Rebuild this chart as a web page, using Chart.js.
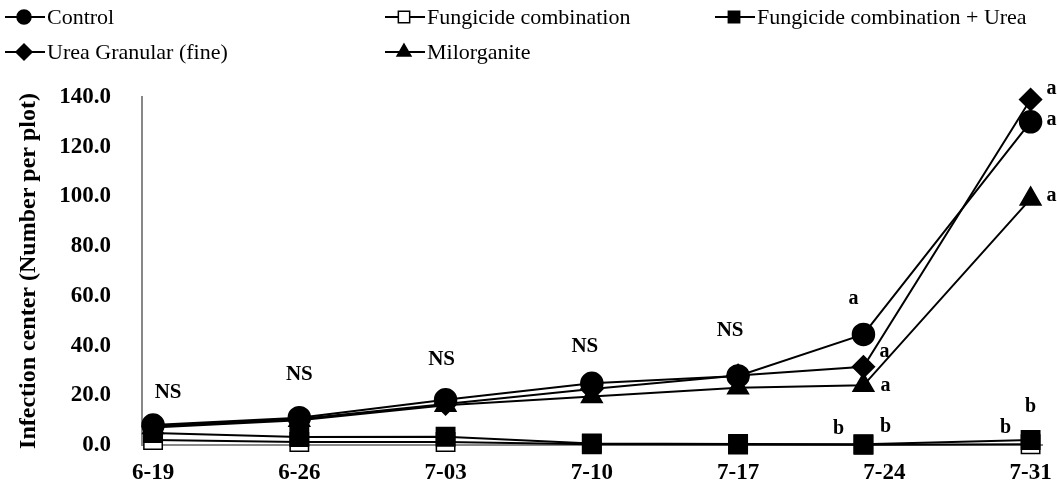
<!DOCTYPE html>
<html>
<head>
<meta charset="utf-8">
<script src="https://cdn.jsdelivr.net/npm/chart.js@4"></script>
<style>
  html, body { margin: 0; padding: 0; background: #fff; }
  #wrap { width: 1057px; height: 496px; }
</style>
</head>
<body>
<div id="wrap"><canvas id="grafico"></canvas></div>
<script>
// days after first sampling (6-19)
const sampleDays = [0, 7, 14, 21, 28, 34, 42];
const tickDays = [0, 7, 14, 21, 28, 35, 42];
const tickLabels = ['6-19', '6-26', '7-03', '7-10', '7-17', '7-24', '7-31'];
const yTicks = [0, 20, 40, 60, 80, 100, 120, 140];

const control = [8.0, 11.0, 18.2, 24.8, 27.8, 44.5, 130.0];
const fungicide = [2.0, 1.2, 1.2, 0.3, 0.2, 0.1, 0.3];
const fungicideUrea = [4.8, 3.2, 3.3, 0.6, 0.4, 0.3, 2.0];
const ureaFine = [7.5, 10.5, 16.5, 22.5, 28.0, 31.5, 139.0];
const milorganite = [7.0, 10.0, 16.0, 19.5, 23.0, 24.0, 99.0];

const nsLabels = ['NS', 'NS', 'NS', 'NS', 'NS'];
const nsDx = [15, 0, -4, -7, -8];
const nsDy = [-33, -43, -40, -37, -45];

// letters: [dataset, point, text, dx, dy]
const letras = [
  [0, 5, 'a', -10, -36],
  [3, 5, 'a', 21, -15],
  [4, 5, 'a', 22, 0],
  [2, 5, 'b', -25, -15],
  [2, 5, 'b', 22, -17],
  [3, 6, 'a', 21, -11],
  [0, 6, 'a', 21, -2],
  [4, 6, 'a', 21, -3],
  [2, 6, 'b', -25, -12],
  [2, 6, 'b', 0, -33]
];

const serif = '"Liberation Serif", "Times New Roman", serif';

function pontos(valores) {
  return valores.map((v, i) => ({ x: sampleDays[i], y: v }));
}

function serie(label, valores, estilo, raio, fundo, ordem) {
  return {
    label: label,
    data: pontos(valores),
    order: ordem,
    borderColor: '#000',
    borderWidth: 2,
    pointStyle: estilo,
    pointRadius: raio,
    pointHoverRadius: raio,
    pointBackgroundColor: fundo,
    pointBorderColor: '#000',
    pointBorderWidth: 1.5,
    clip: false,
    tension: 0
  };
}

const legendaPlugin = {
  id: 'legenda',
  afterDraw(chart) {
    const ctx = chart.ctx;
    const cols = [5, 385, 715];
    const rows = [17, 52];
    const pos = [[0, 0], [1, 0], [2, 0], [0, 1], [1, 1]];
    const raios = [7, 8, 8, 8, 8];
    ctx.save();
    ctx.font = '22px ' + serif;
    ctx.textBaseline = 'middle';
    chart.data.datasets.forEach((ds, i) => {
      const x = cols[pos[i][0]];
      const y = rows[pos[i][1]];
      ctx.strokeStyle = '#000';
      ctx.lineWidth = 2;
      ctx.beginPath();
      ctx.moveTo(x, y);
      ctx.lineTo(x + 40, y);
      ctx.stroke();
      ctx.fillStyle = ds.pointBackgroundColor;
      ctx.lineWidth = 1.5;
      Chart.helpers.drawPoint(ctx, { pointStyle: ds.pointStyle, radius: raios[i], borderWidth: 1.5, rotation: 0 }, x + 19, y);
      ctx.fillStyle = '#000';
      ctx.textAlign = 'left';
      ctx.fillText(ds.label, x + 42, y + 1);
    });
    ctx.restore();
  }
};

const anotacoesPlugin = {
  id: 'anotacoes',
  afterDatasetsDraw(chart) {
    const ctx = chart.ctx;
    ctx.save();
    ctx.fillStyle = '#000';
    ctx.textAlign = 'center';
    ctx.textBaseline = 'middle';
    ctx.font = 'bold 21px ' + serif;
    nsLabels.forEach((txt, i) => {
      let topo = Infinity;
      let px = 0;
      chart.data.datasets.forEach((ds, d) => {
        const el = chart.getDatasetMeta(d).data[i];
        topo = Math.min(topo, el.y);
        px = el.x;
      });
      ctx.fillText(txt, px + nsDx[i], topo + nsDy[i]);
    });
    ctx.font = 'bold 20px ' + serif;
    letras.forEach(([d, i, txt, dx, dy]) => {
      const el = chart.getDatasetMeta(d).data[i];
      ctx.fillText(txt, el.x + dx, el.y + dy);
    });
    ctx.restore();
  }
};

const ctx = document.getElementById('grafico').getContext('2d');
const grafico = new Chart(ctx, {
  type: 'line',
  data: {
    datasets: [
      serie('Control', control, 'circle', 11, '#000', 0),
      serie('Fungicide combination', fungicide, 'rect', 13, '#fff', 4),
      serie('Fungicide combination + Urea', fungicideUrea, 'rect', 13, '#000', 3),
      serie('Urea Granular (fine)', ureaFine, 'rectRot', 11, '#000', 1),
      serie('Milorganite', milorganite, 'triangle', 12, '#000', 2)
    ]
  },
  options: {
    responsive: true,
    maintainAspectRatio: false,
    animation: false,
    events: [],
    layout: { padding: { top: 97, right: 0, left: 0, bottom: 0 } },
    plugins: {
      legend: { display: false },
      tooltip: { enabled: false }
    },
    scales: {
      x: {
        type: 'linear',
        min: -0.53,
        max: 42.57,
        grid: { display: false, drawTicks: false },
        border: { display: true, color: '#888', width: 2 },
        afterBuildTicks: s => { s.ticks = tickDays.map(v => ({ value: v })); },
        afterFit: s => { s.height = 51; s.paddingLeft = 0; s.paddingRight = 0; },
        ticks: {
          padding: 14,
          maxRotation: 0,
          color: '#000',
          font: { family: serif, size: 23, weight: 'bold' },
          callback: v => tickLabels[tickDays.indexOf(v)]
        }
      },
      y: {
        min: 0,
        max: 140,
        grid: { display: false, drawTicks: false },
        border: { display: true, color: '#888', width: 2 },
        afterBuildTicks: s => { s.ticks = yTicks.map(v => ({ value: v })); },
        afterFit: s => { s.width = 142; },
        ticks: {
          padding: 31,
          color: '#000',
          font: { family: serif, size: 23, weight: 'bold' },
          callback: v => v.toFixed(1)
        },
        title: {
          display: true,
          text: 'Infection center (Number per plot)',
          color: '#000',
          padding: { top: 14, bottom: 0 },
          font: { family: serif, size: 24, weight: 'bold' }
        }
      }
    }
  },
  plugins: [legendaPlugin, anotacoesPlugin]
});
</script>
</body>
</html>
